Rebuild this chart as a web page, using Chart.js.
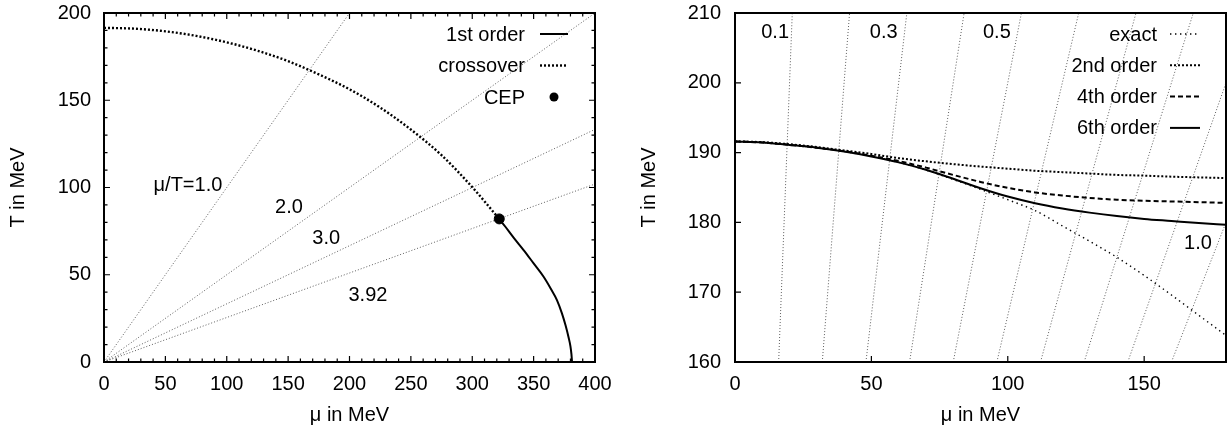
<!DOCTYPE html>
<html><head><meta charset="utf-8">
<script src="https://cdn.jsdelivr.net/npm/chart.js@4.4.1/dist/chart.umd.min.js"></script>
<style>
html,body{margin:0;padding:0;background:#fff;}
#wrap{position:relative;width:1231px;height:429px;overflow:hidden;}
#c1{position:absolute;left:0;top:0;}
#c2{position:absolute;left:615px;top:0;}
</style></head><body>
<div id="wrap"><canvas id="c1" width="615" height="429"></canvas><canvas id="c2" width="616" height="429"></canvas></div>
<script>
// ---------- LEFT PANEL DATA ----------
const leftXTicks = [0, 50, 100, 150, 200, 250, 300, 350, 400];
const leftYTicks = [0, 50, 100, 150, 200];
const crossMu = [0, 25, 50, 75, 100, 125, 150, 175, 200, 225, 250, 275, 300, 322];
const crossT  = [191.5, 191.0, 189.5, 186.9, 183.2, 178.4, 172.4, 164.8, 156.3, 145.8, 133.2, 118.5, 100.2, 82];
const firstMu = [322, 327, 334, 342, 350, 358, 364, 369, 373, 376, 378.5, 380, 380.8, 381.3];
const firstT  = [82, 77.5, 71, 64, 56.5, 49, 42, 35.5, 28, 21, 14, 9, 4.5, 0];
const cepMu = [322];
const cepT  = [82];
const leftRayEndMu = [200, 400, 400, 400];
const leftRayEndT  = [200, 200, 133.3, 102.0];
const leftRayLabels = ['μ/T=1.0', '2.0', '3.0', '3.92'];
const leftRayLabelMu = [68.4, 150.7, 181, 215];
const leftRayLabelT  = [101.4, 88.3, 71, 38.4];

// ---------- RIGHT PANEL DATA ----------
const rightXTicks = [0, 50, 100, 150];
const rightYTicks = [160, 170, 180, 190, 200, 210];
const seriesMu = [0, 10, 20, 30, 40, 50, 60, 70, 80, 90, 100, 110, 120, 130, 140, 150, 160, 170, 180];
const exactT = [191.6, 191.45, 191.1, 190.7, 190.15, 189.45, 188.6, 187.5, 186.15, 184.75, 183.25, 181.7, 179.5, 177.3, 175.0, 172.4, 169.6, 166.7, 163.8];
const order2T = [191.6, 191.5, 191.2, 190.8, 190.3, 189.8, 189.2, 188.75, 188.35, 188.0, 187.7, 187.4, 187.2, 187.0, 186.8, 186.7, 186.55, 186.45, 186.35];
const order4T = [191.6, 191.45, 191.1, 190.7, 190.2, 189.55, 188.8, 187.85, 186.8, 185.8, 184.95, 184.3, 183.85, 183.5, 183.25, 183.1, 183.0, 182.9, 182.8];
const order6T = [191.6, 191.45, 191.1, 190.7, 190.15, 189.45, 188.6, 187.55, 186.25, 184.9, 183.7, 182.75, 182.0, 181.4, 180.9, 180.5, 180.2, 179.9, 179.65];
const rightRayBottomMu = [16, 32, 48, 64, 80, 96, 112, 128, 144, 160];
const rightRayTopMu    = [21, 42, 63, 84, 105, 126, 147, 168, 189, 210];
const rightRayBottomT = 160, rightRayTopT = 210;
const rightRayLabels = ['0.1', '0.3', '0.5', '1.0'];
const rightRayLabelMu = [14.7, 54.5, 96, 169.7];
const rightRayLabelT  = [207.2, 207.2, 207.2, 177];

// ---------- helpers ----------
const FONT = '"Liberation Sans", Arial, Helvetica, sans-serif';
Chart.defaults.font.family = FONT;
Chart.defaults.font.size = 20;
Chart.defaults.color = '#000';
const pts = (xs, ys) => xs.map((v, i) => ({x: v, y: ys[i]}));
const RAY = {borderColor: 'rgba(40,40,40,0.75)', borderWidth: 1, borderDash: [1, 2], pointRadius: 0, fill: false, tension: 0};

const framePlugin = {
  id: 'frame',
  afterDraw(chart, args, o) {
    const {ctx, chartArea: a, scales} = chart;
    const x = scales.x, y = scales.y;
    ctx.save();
    ctx.strokeStyle = '#000';
    ctx.lineWidth = 1.2;
    ctx.beginPath();
    const maj = 6, mnr = 3.5;
    o.xTicks.forEach(v => {
      const p = x.getPixelForValue(v);
      ctx.moveTo(p, a.bottom); ctx.lineTo(p, a.bottom - maj);
      if (o.mirror) { ctx.moveTo(p, a.top); ctx.lineTo(p, a.top + maj); }
    });
    o.yTicks.forEach(v => {
      const p = y.getPixelForValue(v);
      ctx.moveTo(a.left, p); ctx.lineTo(a.left + maj, p);
      if (o.mirror) { ctx.moveTo(a.right, p); ctx.lineTo(a.right - maj, p); }
    });
    if (o.minor) {
      for (let v = x.min; v <= x.max + 1e-9; v += o.minor) {
        const p = x.getPixelForValue(v);
        ctx.moveTo(p, a.bottom); ctx.lineTo(p, a.bottom - mnr);
        ctx.moveTo(p, a.top); ctx.lineTo(p, a.top + mnr);
      }
      for (let v = y.min; v <= y.max + 1e-9; v += o.minor) {
        const p = y.getPixelForValue(v);
        ctx.moveTo(a.left, p); ctx.lineTo(a.left + mnr, p);
        ctx.moveTo(a.right, p); ctx.lineTo(a.right - mnr, p);
      }
    }
    ctx.stroke();
    ctx.lineWidth = 2;
    ctx.strokeRect(a.left, a.top, a.right - a.left, a.bottom - a.top);
    // in-plot labels
    ctx.fillStyle = '#000';
    ctx.font = '20px ' + FONT;
    ctx.textAlign = 'center';
    ctx.textBaseline = 'middle';
    o.labels.forEach((t, i) => {
      ctx.fillText(t, x.getPixelForValue(o.labelMu[i]), y.getPixelForValue(o.labelT[i]));
    });
    // key
    const L = o.key;
    chart.data.datasets.forEach(ds => {
      if (ds.keyRow === undefined) return;
      const yy = L.y0 + ds.keyRow * L.dy;
      ctx.textAlign = 'right';
      ctx.fillText(ds.label, L.textRight, yy + 1);
      if (ds.showLine === false) {
        ctx.beginPath();
        ctx.arc((L.s1 + L.s2) / 2, yy, 4.5, 0, Math.PI * 2);
        ctx.fill();
      } else {
        ctx.beginPath();
        ctx.lineWidth = ds.borderWidth;
        ctx.setLineDash(ds.borderDash || []);
        ctx.strokeStyle = ds.borderColor;
        ctx.moveTo(L.s1, yy); ctx.lineTo(L.s2, yy);
        ctx.stroke();
        ctx.setLineDash([]);
      }
    });
    ctx.restore();
  }
};

function axes(xmin, xmax, xt, ymin, ymax, yt, yWidth, yTitlePad, yLabPad) {
  return {
    x: {
      type: 'linear', min: xmin, max: xmax,
      afterBuildTicks: s => { s.ticks = xt.map(v => ({value: v})); },
      afterFit: s => { s.height = 67; s.paddingLeft = 0; s.paddingRight = 0; },
      grid: {display: false, drawTicks: false}, border: {display: false},
      ticks: {padding: 10, maxRotation: 0, autoSkip: false, font: {size: 20}},
      title: {display: true, text: 'μ in MeV', font: {size: 20}, padding: {top: 0, bottom: 2}}
    },
    y: {
      type: 'linear', min: ymin, max: ymax,
      afterBuildTicks: s => { s.ticks = yt.map(v => ({value: v})); },
      afterFit: s => { s.width = yWidth; s.paddingTop = 0; s.paddingBottom = 0; },
      grid: {display: false, drawTicks: false}, border: {display: false},
      ticks: {padding: yLabPad, autoSkip: false, font: {size: 20}},
      title: {display: true, text: 'T in MeV', font: {size: 20}, padding: {top: yTitlePad, bottom: 0}}
    }
  };
}

// ---------- LEFT CHART ----------
const leftDatasets = leftRayEndMu.map((m, i) => Object.assign({}, RAY, {
  label: 'ray' + i, data: [{x: 0, y: 0}, {x: m, y: leftRayEndT[i]}], order: 10
}));
leftDatasets.push({label: 'crossover', keyRow: 1, data: pts(crossMu, crossT), borderColor: '#000', borderWidth: 2.4, borderDash: [2, 2], pointRadius: 0, cubicInterpolationMode: 'monotone', order: 2});
leftDatasets.push({label: '1st order', keyRow: 0, data: pts(firstMu, firstT), borderColor: '#000', borderWidth: 2, pointRadius: 0, cubicInterpolationMode: 'monotone', order: 1});
leftDatasets.push({label: 'CEP', keyRow: 2, showLine: false, data: pts(cepMu, cepT), pointRadius: 5, pointBackgroundColor: '#000', pointBorderColor: '#000', borderColor: '#000', order: 0});

new Chart(document.getElementById('c1'), {
  type: 'line',
  data: {datasets: leftDatasets},
  options: {
    responsive: false, animation: false, events: [],
    layout: {padding: {top: 13, right: 20, bottom: 0, left: 0}},
    scales: axes(0, 400, leftXTicks, 0, 200, leftYTicks, 104, 6, 13),
    plugins: {
      legend: {display: false}, tooltip: {enabled: false},
      frame: {xTicks: leftXTicks, yTicks: leftYTicks, mirror: true, minor: 10,
        labels: leftRayLabels, labelMu: leftRayLabelMu, labelT: leftRayLabelT,
        key: {textRight: 525, s1: 540, s2: 568, y0: 34, dy: 31.5}}
    }
  },
  plugins: [framePlugin]
});

// ---------- RIGHT CHART ----------
const rightDatasets = rightRayBottomMu.map((m, i) => Object.assign({}, RAY, {
  label: 'ray' + i, data: [{x: m, y: rightRayBottomT}, {x: rightRayTopMu[i], y: rightRayTopT}], order: 10
}));
rightDatasets.push({label: 'exact', keyRow: 0, data: pts(seriesMu, exactT), borderColor: '#000', borderWidth: 1.4, borderDash: [1.4, 3.6], pointRadius: 0, cubicInterpolationMode: 'monotone', order: 4});
rightDatasets.push({label: '2nd order', keyRow: 1, data: pts(seriesMu, order2T), borderColor: '#000', borderWidth: 2, borderDash: [2, 2], pointRadius: 0, cubicInterpolationMode: 'monotone', order: 3});
rightDatasets.push({label: '4th order', keyRow: 2, data: pts(seriesMu, order4T), borderColor: '#000', borderWidth: 2, borderDash: [5, 3], pointRadius: 0, cubicInterpolationMode: 'monotone', order: 2});
rightDatasets.push({label: '6th order', keyRow: 3, data: pts(seriesMu, order6T), borderColor: '#000', borderWidth: 2, pointRadius: 0, cubicInterpolationMode: 'monotone', order: 1});

new Chart(document.getElementById('c2'), {
  type: 'line',
  data: {datasets: rightDatasets},
  options: {
    responsive: false, animation: false, events: [],
    layout: {padding: {top: 13, right: 5, bottom: 0, left: 0}},
    scales: axes(0, 180, rightXTicks, 160, 210, rightYTicks, 120, 22, 14),
    plugins: {
      legend: {display: false}, tooltip: {enabled: false},
      frame: {xTicks: rightXTicks, yTicks: rightYTicks, mirror: false, minor: 0,
        labels: rightRayLabels, labelMu: rightRayLabelMu, labelT: rightRayLabelT,
        key: {textRight: 1157 - 615, s1: 1170 - 615, s2: 1200 - 615, y0: 34, dy: 31.3}}
    }
  },
  plugins: [framePlugin]
});
</script>
</body></html>
